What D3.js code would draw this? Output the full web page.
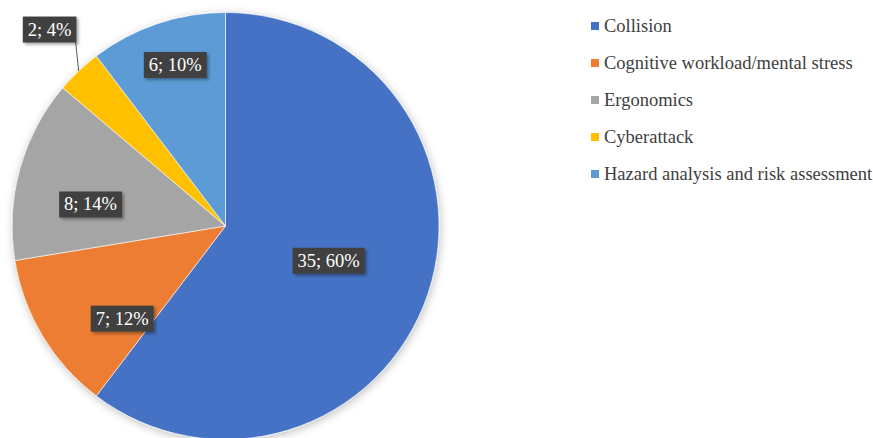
<!DOCTYPE html>
<html>
<head>
<meta charset="utf-8">
<script src="https://cdn.jsdelivr.net/npm/d3@7"></script>
<style>
  html, body { margin: 0; padding: 0; background: #ffffff; }
  svg { display: block; }
  svg text { font-family: "Liberation Serif", "Times New Roman", Tinos, "DejaVu Serif", serif; }
</style>
</head>
<body>
<svg id="chart" width="873" height="438"></svg>
<script>
// Study topics and their counts
const categories = [
  "Collision",
  "Cognitive workload/mental stress",
  "Ergonomics",
  "Cyberattack",
  "Hazard analysis and risk assessment"
];
const counts = [35, 7, 8, 2, 6];
const percentLabels = ["60%", "12%", "14%", "4%", "10%"];
const colors = ["#4472C4", "#ED7D31", "#A5A5A5", "#FFC000", "#5B9BD5"];

// Where each value label sits: fraction along its slice's sweep, fraction of radius
const labelPlacement = [
  { along: 0.5, radial: 0.51 },
  { along: 0.25, radial: 0.65 },
  { along: 0.37, radial: 0.64 },
  { along: 0.63, radial: 1.235 },
  { along: 0.535, radial: 0.79 }
];

const svg = d3.select("#chart");
const cx = 225.5, cy = 226, radius = 213.5;

const defs = svg.append("defs");
const pieShadow = defs.append("filter").attr("id", "pieShadow")
  .attr("x", "-20%").attr("y", "-20%").attr("width", "140%").attr("height", "140%");
pieShadow.append("feDropShadow")
  .attr("dx", 1).attr("dy", 2).attr("stdDeviation", 4)
  .attr("flood-color", "#000").attr("flood-opacity", 0.25);

const boxShadow = defs.append("filter").attr("id", "boxShadow")
  .attr("x", "-30%").attr("y", "-30%").attr("width", "160%").attr("height", "160%");
boxShadow.append("feDropShadow")
  .attr("dx", 2).attr("dy", 2).attr("stdDeviation", 1.5)
  .attr("flood-color", "#000").attr("flood-opacity", 0.35);

const color = d3.scaleOrdinal().domain(categories).range(colors);

const pie = d3.pie().sort(null).value(d => d.count);
const data = categories.map((c, i) => ({ name: c, count: counts[i], pct: percentLabels[i], i }));
const arcs = pie(data);

const arc = d3.arc().innerRadius(0).outerRadius(radius);

const g = svg.append("g").attr("transform", `translate(${cx},${cy})`);

g.append("g").attr("filter", "url(#pieShadow)")
  .selectAll("path")
  .data(arcs)
  .join("path")
  .attr("d", arc)
  .attr("fill", d => color(d.data.name))
  .attr("stroke", "#ffffff")
  .attr("stroke-opacity", 0.6)
  .attr("stroke-width", 1);

// Value labels
const labels = g.append("g");
arcs.forEach((d, i) => {
  const p = labelPlacement[i];
  const a = d.startAngle + (d.endAngle - d.startAngle) * p.along;
  const r = radius * p.radial;
  const x = r * Math.sin(a), y = -r * Math.cos(a);
  const lg = labels.append("g");
  const txt = `${d.data.count}; ${d.data.pct}`;
  const t = lg.append("text")
    .attr("x", x).attr("y", y)
    .attr("text-anchor", "middle")
    .attr("dominant-baseline", "central")
    .attr("font-size", 18.5)
    .attr("fill", "#ffffff")
    .text(txt);
  const bb = t.node().getBBox();
  const w = bb.width + 10, h = 26;
  if (p.radial > 1) {
    const mid = (d.startAngle + d.endAngle) / 2;
    const ex = radius * Math.sin(mid), ey = -radius * Math.cos(mid);
    lg.insert("line", "text")
      .attr("x1", x + w / 2 - 1).attr("y1", y + h / 2 - 2)
      .attr("x2", ex).attr("y2", ey)
      .attr("stroke", "#595959").attr("stroke-width", 1);
  }
  lg.insert("rect", "text")
    .attr("x", x - w / 2).attr("y", y - h / 2)
    .attr("width", w).attr("height", h)
    .attr("fill", "#404040")
    .attr("filter", "url(#boxShadow)");
});

// Legend
const legend = svg.append("g").attr("transform", "translate(591,26)");
const rows = legend.selectAll("g").data(categories).join("g")
  .attr("transform", (d, i) => `translate(0,${i * 37})`);
rows.append("rect")
  .attr("x", 0).attr("y", -4).attr("width", 8).attr("height", 8)
  .attr("fill", d => color(d));
rows.append("text")
  .attr("x", 13).attr("y", 0)
  .attr("dominant-baseline", "central")
  .attr("font-size", 18.5)
  .attr("fill", "#404040")
  .text(d => d);
</script>
</body>
</html>
